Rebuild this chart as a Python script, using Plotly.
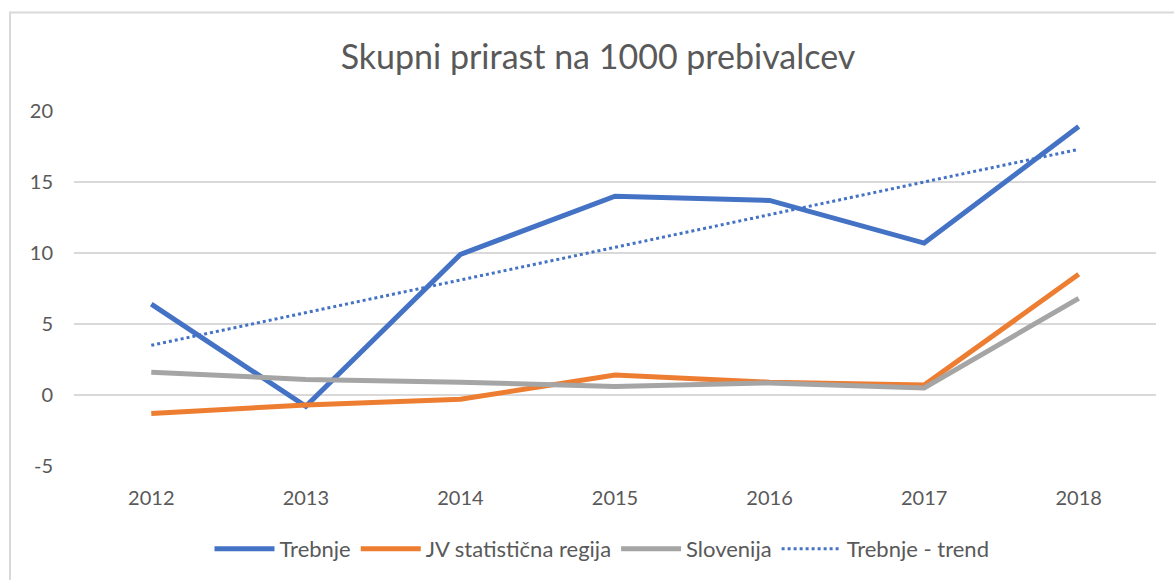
import plotly.graph_objects as go

years = ["2012", "2013", "2014", "2015", "2016", "2017", "2018"]
trebnje = [6.4, -0.8, 9.9, 14.0, 13.7, 10.7, 18.9]
jv_regija = [-1.3, -0.7, -0.3, 1.4, 0.9, 0.7, 8.5]
slovenija = [1.6, 1.1, 0.9, 0.6, 0.85, 0.5, 6.8]
trend_years = ["2012", "2018"]
trend_values = [3.5, 17.3]
y_ticks = [-5, 0, 5, 10, 15, 20]
y_ticktext = ["-5", "0", "5", "10", "15", "20"]

FONT = "Lato"
TXT = "#595959"

fig = go.Figure()
fig.add_trace(go.Scatter(x=years, y=trebnje, name="Trebnje", mode="lines",
                         line=dict(color="#4472C4", width=5)))
fig.add_trace(go.Scatter(x=years, y=jv_regija, name="JV statistična regija", mode="lines",
                         line=dict(color="#ED7D31", width=5)))
fig.add_trace(go.Scatter(x=years, y=slovenija, name="Slovenija", mode="lines",
                         line=dict(color="#A5A5A5", width=5)))
fig.add_trace(go.Scatter(x=trend_years, y=trend_values, name="Trebnje - trend", mode="lines",
                         line=dict(color="#4472C4", width=3, dash="dot")))

L, R, T, B = 74, 18, 111, 114
W, H = 1174, 580
pw, ph = W - L - R, H - T - B

fig.update_layout(
    width=W, height=H,
    margin=dict(l=L, r=R, t=T, b=B, autoexpand=False),
    paper_bgcolor="white", plot_bgcolor="white",
    font=dict(family=FONT, color=TXT, size=20),
    title=dict(text="Skupni prirast na 1000 prebivalcev", x=598 / W, xref="container",
               xanchor="center", y=1 - 57 / H, yref="container", yanchor="middle",
               font=dict(size=34, color=TXT, family=FONT)),
    xaxis=dict(type="category", categoryorder="array", categoryarray=years,
               showgrid=False, zeroline=False, showline=False, ticks="",
               ticklabelstandoff=18, tickfont=dict(size=20, color=TXT),
               range=[-0.5, 6.5]),
    yaxis=dict(range=[-5, 20], tickvals=y_ticks, ticktext=y_ticktext,
               showgrid=True, gridcolor="#D9D9D9",
               gridwidth=1.5, zeroline=False, showline=False, ticks="",
               ticklabelstandoff=20, tickfont=dict(size=20, color=TXT)),
    legend=dict(orientation="h", x=(602 - L) / pw, xanchor="center",
                y=-(549 - 466) / ph, yanchor="middle", font=dict(size=22, color=TXT),
                itemwidth=60, traceorder="normal"),
    showlegend=True,
    hovermode=False,
)

# chart border
fig.add_shape(type="rect", xref="paper", yref="paper",
              x0=(10 - L) / pw, x1=(1190 - L) / pw,
              y0=-(600 - (H - B)) / ph, y1=1 + (T - 12.5) / ph,
              line=dict(color="#D9D9D9", width=2), layer="below")

fig.write_html("out.html", config={"displayModeBar": False},
               post_script="document.body.style.margin='0';document.body.style.overflow='hidden';")
